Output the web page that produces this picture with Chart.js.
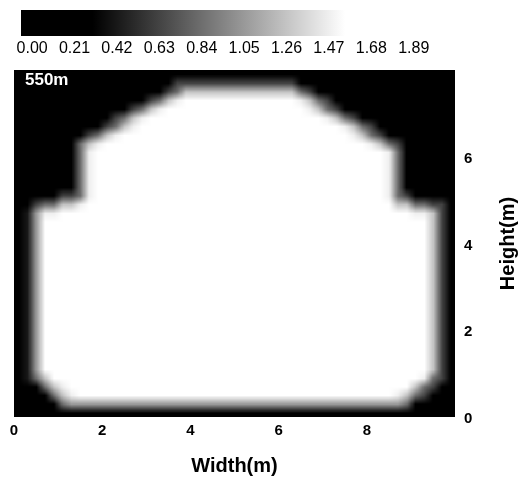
<!DOCTYPE html>
<html>
<head>
<meta charset="utf-8">
<script src="https://cdn.jsdelivr.net/npm/chart.js@4.4.1/dist/chart.umd.min.js"></script>
<style>
  html, body { margin: 0; padding: 0; background: #fff; }
  #wrap { position: relative; width: 529px; height: 483px; }
  canvas { position: absolute; left: 0; top: 0; }
</style>
</head>
<body>
<div id="wrap">
  <canvas id="main" width="529" height="483"></canvas>
  <canvas id="bar" width="529" height="62"></canvas>
</div>
<script>
// Axis ticks (metres) and colour-scale ticks
const widthTicks = [0, 2, 4, 6, 8];
const heightTicks = [0, 2, 4, 6];
const colorbarTicks = [0.00, 0.21, 0.42, 0.63, 0.84, 1.05, 1.26, 1.47, 1.68, 1.89];

// Cross-section field on 0.2 m cells, 50 columns (0-10 m) by 40 rows (0-8 m),
// top row first; each digit is a level worth 0.21
const levelStep = 0.21;
const cellSize = 0.2;
const levelRows = [
  "0000000000" + "0000000000" + "0000000000" + "0000000000" + "0000000000",
  "0000000000" + "0000000133" + "3333333333" + "3310000000" + "0000000000",
  "0000000000" + "0000001346" + "6666666666" + "6643100000" + "0000000000",
  "0000000000" + "0000134678" + "8888888888" + "8876431000" + "0000000000",
  "0000000000" + "0013467899" + "9999999999" + "9987643100" + "0000000000",
  "0000000000" + "1346789999" + "9999999999" + "9999876431" + "0000000000",
  "0000000001" + "3467899999" + "9999999999" + "9999998764" + "3100000000",
  "0000000134" + "6789999999" + "9999999999" + "9999999876" + "4310000000",
  "0000001467" + "8999999999" + "9999999999" + "9999999998" + "7643000000",
  "0000001478" + "9999999999" + "9999999999" + "9999999999" + "9874000000",
  "0000001479" + "9999999999" + "9999999999" + "9999999999" + "9974000000",
  "0000001479" + "9999999999" + "9999999999" + "9999999999" + "9974000000",
  "0000001479" + "9999999999" + "9999999999" + "9999999999" + "9974000000",
  "0000001479" + "9999999999" + "9999999999" + "9999999999" + "9974000000",
  "0001133479" + "9999999999" + "9999999999" + "9999999999" + "9974311000",
  "0134466789" + "9999999999" + "9999999999" + "9999999999" + "9986644330",
  "0257788999" + "9999999999" + "9999999999" + "9999999999" + "9998877630",
  "0258999999" + "9999999999" + "9999999999" + "9999999999" + "9999998630",
  "0258999999" + "9999999999" + "9999999999" + "9999999999" + "9999998630",
  "0258999999" + "9999999999" + "9999999999" + "9999999999" + "9999998630",
  "0258999999" + "9999999999" + "9999999999" + "9999999999" + "9999998630",
  "0258999999" + "9999999999" + "9999999999" + "9999999999" + "9999998630",
  "0258999999" + "9999999999" + "9999999999" + "9999999999" + "9999998630",
  "0258999999" + "9999999999" + "9999999999" + "9999999999" + "9999998630",
  "0258999999" + "9999999999" + "9999999999" + "9999999999" + "9999998630",
  "0258999999" + "9999999999" + "9999999999" + "9999999999" + "9999998630",
  "0258999999" + "9999999999" + "9999999999" + "9999999999" + "9999998630",
  "0258999999" + "9999999999" + "9999999999" + "9999999999" + "9999998630",
  "0258999999" + "9999999999" + "9999999999" + "9999999999" + "9999998630",
  "0258999999" + "9999999999" + "9999999999" + "9999999999" + "9999998630",
  "0258999999" + "9999999999" + "9999999999" + "9999999999" + "9999998630",
  "0258999999" + "9999999999" + "9999999999" + "9999999999" + "9999998630",
  "0258999999" + "9999999999" + "9999999999" + "9999999999" + "9999998630",
  "0258999999" + "9999999999" + "9999999999" + "9999999999" + "9999998630",
  "0258999999" + "9999999999" + "9999999999" + "9999999999" + "9999998630",
  "0246899999" + "9999999999" + "9999999999" + "9999999999" + "9999987430",
  "0014678999" + "9999999999" + "9999999999" + "9999999999" + "9999864310",
  "0001467888" + "8888888888" + "8888888888" + "8888888888" + "8887643000",
  "0000145555" + "5555555555" + "5555555555" + "5555555555" + "5555410000",
  "0000001111" + "1111111111" + "1111111111" + "1111111111" + "1111000000"
];
const sectionLabel = "550m";

// Grey ramp of the colour scale: black below grayStart, white above grayEnd
const grayStart = 0.3;
const grayEnd = 1.55;
function grayOf(v) {
  const t = Math.min(1, Math.max(0, (v - grayStart) / (grayEnd - grayStart)));
  return Math.round(t * 255);
}

const nCols = levelRows[0].length;
const nRows = levelRows.length;
const cells = [];
levelRows.forEach((row, r) => {
  if (row.length !== nCols) throw new Error("row " + r + " has " + row.length + " cells");
  const j = nRows - 1 - r;
  for (let c = 0; c < row.length; c++) {
    cells.push({ x: (c + 0.5) * cellSize, y: (j + 0.5) * cellSize, v: Number(row[c]) * levelStep, col: c, row: r });
  }
});

const FONT = "'Liberation Sans', Arial, Helvetica, sans-serif";
Chart.defaults.font.family = FONT;
Chart.defaults.color = "#000";

// Paints the cell grid as a shaded raster placed through the x/y scales,
// then the in-plot label and the right-hand axis title
const heatPlugin = {
  id: "heatCells",
  beforeDatasetsDraw(chart) {
    const { ctx, chartArea: a, scales: { x, y } } = chart;
    const pts = chart.data.datasets[0].data;
    const raster = document.createElement("canvas");
    raster.width = nCols;
    raster.height = nRows;
    const rctx = raster.getContext("2d");
    const img = rctx.createImageData(nCols, nRows);
    let xMin = Infinity, xMax = -Infinity, yMin = Infinity, yMax = -Infinity;
    const h = cellSize / 2;
    for (const p of pts) {
      const g = grayOf(p.v);
      const k = (p.row * nCols + p.col) * 4;
      img.data[k] = g; img.data[k + 1] = g; img.data[k + 2] = g; img.data[k + 3] = 255;
      xMin = Math.min(xMin, p.x - h); xMax = Math.max(xMax, p.x + h);
      yMin = Math.min(yMin, p.y - h); yMax = Math.max(yMax, p.y + h);
    }
    rctx.putImageData(img, 0, 0);
    const left = x.getPixelForValue(xMin), right = x.getPixelForValue(xMax);
    const top = y.getPixelForValue(yMax), bottom = y.getPixelForValue(yMin);
    ctx.save();
    ctx.beginPath();
    ctx.rect(a.left, a.top, a.right - a.left, a.bottom - a.top);
    ctx.clip();
    ctx.imageSmoothingEnabled = true;
    ctx.imageSmoothingQuality = "low";
    ctx.drawImage(raster, left, top, right - left, bottom - top);
    ctx.restore();
  },
  afterDraw(chart) {
    const { ctx, chartArea: a, scales: { y } } = chart;
    ctx.save();
    ctx.fillStyle = "#fff";
    ctx.font = "bold 17px " + FONT;
    ctx.textAlign = "left";
    ctx.textBaseline = "alphabetic";
    ctx.fillText(sectionLabel, a.left + 11, a.top + 15);
    ctx.restore();

    ctx.save();
    ctx.translate(y.right - 21, (a.top + a.bottom) / 2);
    ctx.rotate(-Math.PI / 2);
    ctx.fillStyle = "#000";
    ctx.font = "bold 20px " + FONT;
    ctx.textAlign = "center";
    ctx.textBaseline = "middle";
    ctx.fillText("Height(m)", 0, 0);
    ctx.restore();
  }
};

new Chart(document.getElementById("main"), {
  type: "scatter",
  data: { datasets: [{ data: cells, pointRadius: 0, pointHoverRadius: 0 }] },
  options: {
    responsive: false,
    animation: false,
    events: [],
    layout: { padding: { top: 70, left: 14, right: 0, bottom: 0 } },
    plugins: { legend: { display: false }, tooltip: { enabled: false } },
    scales: {
      x: {
        type: "linear", position: "bottom", min: 0, max: 10,
        afterBuildTicks: s => { s.ticks = widthTicks.map(v => ({ value: v })); },
        afterFit: s => { s.height = 66; },
        grid: { display: false, drawTicks: false },
        border: { display: false },
        ticks: { color: "#000", font: { size: 15, weight: "bold" }, padding: 5, autoSkip: false, maxRotation: 0 },
        title: { display: true, text: "Width(m)", color: "#000", font: { size: 20, weight: "bold" }, padding: { top: 0, bottom: 5 } }
      },
      y: {
        type: "linear", position: "right", min: 0, max: 8,
        afterBuildTicks: s => { s.ticks = heightTicks.map(v => ({ value: v })); },
        afterFit: s => { s.width = 74; },
        grid: { display: false, drawTicks: false },
        border: { display: false },
        ticks: { color: "#000", font: { size: 15, weight: "bold" }, padding: 9, labelOffset: 2, autoSkip: false }
      }
    }
  },
  plugins: [heatPlugin]
});

// Colour scale strip drawn along its own value axis
const stripPlugin = {
  id: "colorStrip",
  beforeDatasetsDraw(chart) {
    const { ctx, chartArea: a, scales: { x } } = chart;
    const g = ctx.createLinearGradient(x.getPixelForValue(grayStart), 0, x.getPixelForValue(grayEnd), 0);
    g.addColorStop(0, "#000");
    g.addColorStop(1, "#fff");
    ctx.save();
    ctx.fillStyle = g;
    ctx.fillRect(a.left, a.top, a.right - a.left, a.bottom - a.top);
    ctx.restore();
  }
};

new Chart(document.getElementById("bar"), {
  type: "scatter",
  data: { datasets: [{ data: colorbarTicks.map(v => ({ x: v, y: 0.5 })), pointRadius: 0, pointHoverRadius: 0 }] },
  options: {
    responsive: false,
    animation: false,
    events: [],
    layout: { padding: { top: 10, left: 21, right: 89, bottom: 0 } },
    plugins: { legend: { display: false }, tooltip: { enabled: false } },
    scales: {
      x: {
        type: "linear", min: -0.055, max: 2.02,
        afterBuildTicks: s => { s.ticks = colorbarTicks.map(v => ({ value: v })); },
        afterFit: s => { s.height = 26; },
        grid: { display: false, drawTicks: false },
        border: { display: false },
        ticks: { color: "#000", font: { size: 16 }, padding: 3, autoSkip: false, maxRotation: 0, callback: v => Number(v).toFixed(2) }
      },
      y: { display: false, min: 0, max: 1 }
    }
  },
  plugins: [stripPlugin]
});
</script>
</body>
</html>
